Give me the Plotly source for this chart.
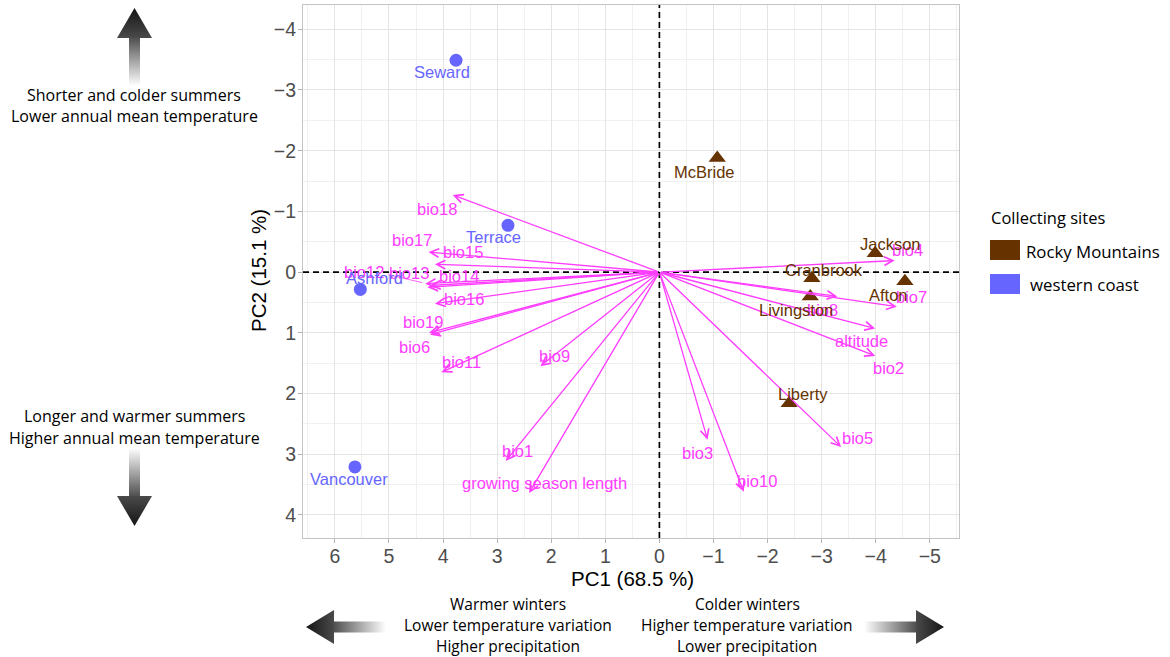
import base64
import plotly.graph_objects as go

# ---- sampling sites: PCA scores ----
site_names = ["Seward", "Terrace", "Ashford", "Vancouver",
              "McBride", "Jackson", "Cranbrook", "Afton", "Livingston", "Liberty"]
site_region = ["western coast"] * 4 + ["Rocky Mountains"] * 6
site_pc1 = [3.76, 2.80, 5.53, 5.63, -1.07, -3.99, -2.82, -4.54, -2.79, -2.40]
site_pc2 = [-3.49, -0.77, 0.285, 3.21, -1.88, -0.31, 0.10, 0.15, 0.40, 2.16]
# label nudges in screen pixels (right, down)
site_label_dx = [-14, -14, 14, -6, -13, 15, 12, -16, -14, 14]
site_label_dy = [12, 12, -11, 12, 14, -9, -8, 14, 14, -9]

# ---- climate variables: PCA loadings (arrow tips) ----
var_names = ["bio18", "bio17", "bio15", "bio12", "bio13", "bio14", "bio16",
             "bio19", "bio6", "bio11", "bio9", "bio1", "growing season length",
             "bio3", "bio10", "bio5", "bio2", "altitude", "bio7", "bio8", "bio4"]
var_pc1 = [3.82, 4.27, 4.15, 4.33, 4.29, 4.24, 4.15,
           4.24, 4.26, 4.03, 2.20, 2.84, 2.41,
           -0.89, -1.56, -3.36, -3.99, -3.99, -4.39, -3.29, -4.35]
var_pc2 = [-1.27, -0.33, -0.13, 0.19, 0.25, 0.22, 0.52,
           1.03, 1.00, 1.65, 1.55, 3.11, 3.64,
           2.76, 3.62, 2.88, 1.38, 0.93, 0.57, 0.40, -0.19]
var_label_dx = [-16, -16, 28, -61, -18, 29, 29,
                -7, -15, 20, 14, 12, 15,
                -10, 13, 16, 13, -14, 15, -15, 13]
var_label_dy = [14, -12, -12, -12, -14, -9, -5,
                -13, 14, -10, -10, -10, -10,
                13, -11, -9, 12, 12, -10, 14, -11]

region_style = {
    "Rocky Mountains": dict(color="#663300", symbol="triangle-up", size=15),
    "western coast": dict(color="#6666FF", symbol="circle", size=13),
}
VAR_COLOR = "#FF3CFF"
SIDE_FONT = "Open Sans"
AXIS_FONT = "Liberation Sans, Arial, sans-serif"

W, H = 1170, 657
L_M, R_M, T_M, B_M = 303, 211, 5, 119
PW, PH = W - L_M - R_M, H - T_M - B_M


def pxx(x):
    return (x - L_M) / PW


def pxy(y):
    return (H - B_M - y) / PH


fig = go.Figure()

# site markers
for region in ["western coast", "Rocky Mountains"]:
    idx = [i for i, r in enumerate(site_region) if r == region]
    st = region_style[region]
    fig.add_trace(go.Scatter(
        x=[site_pc1[i] for i in idx], y=[site_pc2[i] for i in idx],
        mode="markers", name=region, showlegend=False,
        marker=dict(color=st["color"], symbol=st["symbol"], size=st["size"],
                    line=dict(width=0)),
        hoverinfo="skip"))

annotations = []

# loading arrows
for name, x, y in zip(var_names, var_pc1, var_pc2):
    annotations.append(dict(
        x=x, y=y, ax=0, ay=0, xref="x", yref="y", axref="x", ayref="y",
        text="", showarrow=True, arrowhead=5, arrowsize=1.3, arrowwidth=1.3,
        arrowcolor=VAR_COLOR, standoff=0, startstandoff=0))

# loading labels
for name, x, y, dx, dy in zip(var_names, var_pc1, var_pc2, var_label_dx, var_label_dy):
    annotations.append(dict(
        x=x, y=y, xref="x", yref="y", text=name, showarrow=False,
        xshift=dx, yshift=-dy, xanchor="center", yanchor="middle",
        font=dict(family=AXIS_FONT, size=16.5, color=VAR_COLOR)))

# site labels
for name, reg, x, y, dx, dy in zip(site_names, site_region, site_pc1, site_pc2,
                                   site_label_dx, site_label_dy):
    annotations.append(dict(
        x=x, y=y, xref="x", yref="y", text=name, showarrow=False,
        xshift=dx, yshift=-dy, xanchor="center", yanchor="middle",
        font=dict(family=AXIS_FONT, size=16.5, color=region_style[reg]["color"])))


def text_px(x, y, text, size, family=SIDE_FONT, color="#000000", angle=0, xanchor="center"):
    annotations.append(dict(
        x=pxx(x), y=pxy(y), xref="paper", yref="paper", text=text,
        showarrow=False, xanchor=xanchor, yanchor="middle", textangle=angle,
        font=dict(family=family, size=size, color=color)))


# axis titles
text_px(632, 578, "PC1 (68.5 %)", 20.5, family=AXIS_FONT)
text_px(258, 271, "PC2 (15.1 %)", 20.5, family=AXIS_FONT, angle=-90)

# side explanations
text_px(134, 95, "Shorter and colder summers", 16)
text_px(134, 116, "Lower annual mean temperature", 16)
text_px(134, 416, "Longer and warmer summers", 16)
text_px(134, 438, "Higher annual mean temperature", 16)
text_px(508, 604, "Warmer winters", 15.5)
text_px(508, 625, "Lower temperature variation", 15.5)
text_px(508, 646, "Higher precipitation", 15.5)
text_px(747, 604, "Colder winters", 15.5)
text_px(747, 625, "Higher temperature variation", 15.5)
text_px(747, 646, "Lower precipitation", 15.5)

# legend
text_px(989, 218, "Collecting sites", 16.5, xanchor="left")
text_px(1024, 251, "Rocky Mountains", 16.8, xanchor="left")
text_px(1028, 284, "western coast", 16.8, xanchor="left")

shapes = [
    # dashed reference lines through the origin
    dict(type="line", xref="x", yref="paper", x0=0, x1=0, y0=0, y1=1,
         line=dict(color="#000000", width=1.7, dash="6px,4px"), layer="above"),
    dict(type="line", xref="paper", yref="y", x0=0, x1=1, y0=0, y1=0,
         line=dict(color="#000000", width=1.7, dash="6px,4px"), layer="above"),
    # leader line for the displaced bio12 label
    dict(type="line", xref="x", yref="y", xsizemode="pixel", ysizemode="pixel",
         xanchor=var_pc1[3], yanchor=var_pc2[3], x0=-37, x1=-3, y0=9, y1=1,
         line=dict(color=VAR_COLOR, width=0.8)),
    # legend keys
    dict(type="rect", xref="paper", yref="paper",
         x0=pxx(990), x1=pxx(1020), y0=pxy(260), y1=pxy(240),
         fillcolor="#663300", line=dict(width=0)),
    dict(type="rect", xref="paper", yref="paper",
         x0=pxx(990), x1=pxx(1020), y0=pxy(294), y1=pxy(274),
         fillcolor="#6666FF", line=dict(width=0)),
]


def arrow_svg(length, head_len, head_w, shaft_w, direction):
    c = head_w / 2.0
    if direction in ("left", "right"):
        w, h = length, head_w
    else:
        w, h = head_w, length

    def pt(u, v):
        if direction == "right":
            return (u, v)
        if direction == "left":
            return (length - u, v)
        if direction == "down":
            return (v, u)
        return (v, length - u)

    def poly(pts):
        return " ".join("%.2f,%.2f" % pt(u, v) for u, v in pts)

    b = length - head_len
    s0 = pt(0, c)
    s1 = pt(b, c)
    h1 = pt(length, c)
    shaft = poly([(0, c - shaft_w / 2), (b + 1, c - shaft_w / 2),
                  (b + 1, c + shaft_w / 2), (0, c + shaft_w / 2)])
    head = poly([(b, 0), (length, c), (b, head_w)])
    svg = (
        '<svg xmlns="http://www.w3.org/2000/svg" width="%d" height="%d" viewBox="0 0 %d %d">'
        '<defs>'
        '<linearGradient id="s" gradientUnits="userSpaceOnUse" x1="%.2f" y1="%.2f" x2="%.2f" y2="%.2f">'
        '<stop offset="0" stop-color="#ffffff"/><stop offset="1" stop-color="#505050"/></linearGradient>'
        '<linearGradient id="h" gradientUnits="userSpaceOnUse" x1="%.2f" y1="%.2f" x2="%.2f" y2="%.2f">'
        '<stop offset="0" stop-color="#4a4a4a"/><stop offset="1" stop-color="#151515"/></linearGradient>'
        '</defs>'
        '<polygon points="%s" fill="url(#s)"/>'
        '<polygon points="%s" fill="url(#h)"/>'
        '</svg>'
    ) % (w, h, w, h, s0[0], s0[1], s1[0], s1[1], s1[0], s1[1], h1[0], h1[1], shaft, head)
    return "data:image/svg+xml;base64," + base64.b64encode(svg.encode()).decode(), w, h


images = []
for left, top, length, direction in [(117, 8, 78, "up"), (117, 448, 78, "down"),
                                     (306, 610, 80, "left"), (864, 610, 80, "right")]:
    src, w, h = arrow_svg(length, 30 if direction in ("up", "down") else 28,
                          35 if direction in ("up", "down") else 34, 11, direction)
    images.append(dict(source=src, xref="paper", yref="paper",
                       x=pxx(left), y=pxy(top), sizex=w / PW, sizey=h / PH,
                       xanchor="left", yanchor="top", sizing="stretch", layer="above"))

axis_common = dict(
    showgrid=True, gridcolor="#E4E4E4", gridwidth=1.1, zeroline=False,
    showline=True, mirror=True, linecolor="#C4C4C4", linewidth=1,
    ticks="outside", ticklen=4, tickcolor="#B3B3B3", tickwidth=1,
    tickfont=dict(family=AXIS_FONT, size=19.5, color="#4D4D4D"),
    dtick=1, tick0=0,
    minor=dict(dtick=0.5, showgrid=True, gridcolor="#F0F0F0", gridwidth=0.9),
)

fig.update_layout(
    width=W, height=H, autosize=False,
    margin=dict(l=L_M, r=R_M, t=T_M, b=B_M, pad=0),
    paper_bgcolor="#FFFFFF", plot_bgcolor="#FFFFFF",
    xaxis=dict(range=[6.59, -5.54], ticklabelstandoff=-3, **axis_common),
    yaxis=dict(range=[4.38, -4.40], ticklabelstandoff=-2, **axis_common),
    annotations=annotations, shapes=shapes, images=images,
    showlegend=False,
)

fig.write_html("out.html")
